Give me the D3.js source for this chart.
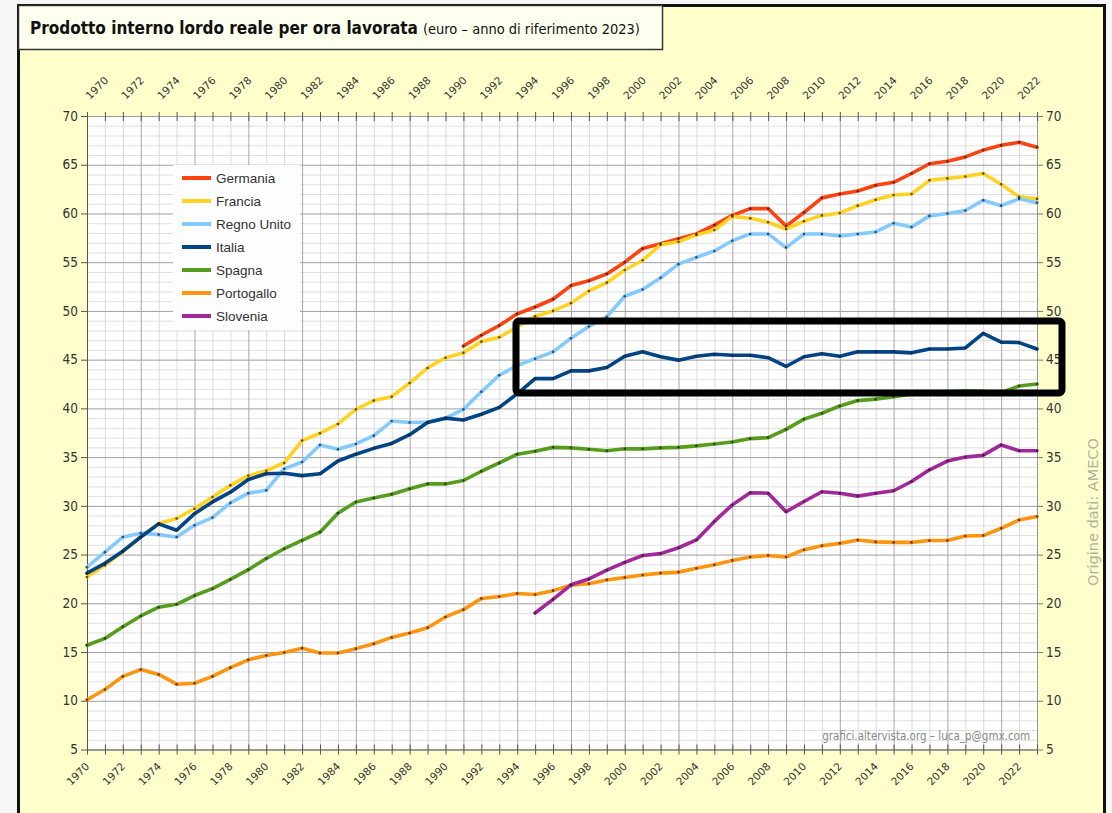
<!DOCTYPE html>
<html>
<head>
<meta charset="utf-8">
<script src="https://cdn.jsdelivr.net/npm/d3@7"></script>
<style>
  html, body { margin: 0; padding: 0; background: #f7f7f7; }
  svg { display: block; }
  .narrow { font-family: "Liberation Sans Narrow", "DejaVu Sans Condensed", sans-serif; }
</style>
</head>
<body>
<svg id="chart" width="1112" height="813"></svg>
<script>
// ── Data ─────────────────────────────────────────────────────────────────────
const firstYear = 1970, lastYear = 2023;
const years = d3.range(firstYear, lastYear + 1);

const xTickLabels = ["1970","1972","1974","1976","1978","1980","1982","1984","1986","1988",
  "1990","1992","1994","1996","1998","2000","2002","2004","2006","2008","2010","2012",
  "2014","2016","2018","2020","2022"];
const yTickLabels = [5, 10, 15, 20, 25, 30, 35, 40, 45, 50, 55, 60, 65, 70];

const countries = ["Germania", "Francia", "Regno Unito", "Italia", "Spagna", "Portogallo", "Slovenia"];
const colors    = ["#ff420e", "#ffd320", "#83caff", "#004586", "#579d1c", "#ff950e", "#a1279a"];
const startYear = [1991, 1970, 1970, 1970, 1970, 1970, 1995];

const germania = [46.4, 47.5, 48.5, 49.7, 50.4, 51.2, 52.6, 53.1, 53.8, 55.0,
  56.4, 56.9, 57.4, 57.9, 58.8, 59.8, 60.5, 60.5, 58.7, 60.1, 61.6, 62.0, 62.3,
  62.9, 63.2, 64.1, 65.1, 65.35, 65.8, 66.5, 67.0, 67.3, 66.8];
const francia = [22.7, 23.9, 25.3, 26.8, 28.2, 28.7, 29.7, 30.9, 32.1, 33.1,
  33.6, 34.4, 36.7, 37.45, 38.4, 39.9, 40.8, 41.2, 42.6, 44.15,
  45.2, 45.7, 46.85, 47.3, 48.35, 49.45, 50.0, 50.8, 52.05, 52.9,
  54.2, 55.2, 56.8, 57.1, 57.8, 58.3, 59.7, 59.5, 59.1, 58.4,
  59.2, 59.8, 60.05, 60.8, 61.4, 61.9, 62.0, 63.4, 63.6, 63.8,
  64.1, 63.0, 61.7, 61.5];
const regnoUnito = [23.7, 25.25, 26.8, 27.2, 27.05, 26.8, 28.0, 28.8, 30.3, 31.3,
  31.6, 33.8, 34.5, 36.25, 35.8, 36.35, 37.2, 38.7, 38.55, 38.6,
  39.0, 39.9, 41.7, 43.4, 44.4, 45.1, 45.8, 47.2, 48.4, 49.4,
  51.5, 52.2, 53.4, 54.8, 55.5, 56.15, 57.2, 57.9, 57.9, 56.5,
  57.9, 57.9, 57.7, 57.9, 58.1, 59.0, 58.6, 59.75, 60.0, 60.3,
  61.35, 60.8, 61.5, 61.1];
const italia = [23.1, 24.1, 25.35, 26.8, 28.15, 27.5, 29.2, 30.4, 31.4, 32.7,
  33.3, 33.35, 33.1, 33.3, 34.6, 35.3, 35.9, 36.4, 37.3, 38.55,
  39.0, 38.8, 39.4, 40.1, 41.5, 43.05, 43.05, 43.85, 43.85, 44.2,
  45.35, 45.8, 45.3, 44.95, 45.35, 45.55, 45.45, 45.45, 45.2, 44.3,
  45.3, 45.6, 45.35, 45.8, 45.8, 45.8, 45.7, 46.1, 46.1, 46.2,
  47.7, 46.8, 46.75, 46.1];
const spagna = [15.7, 16.4, 17.6, 18.7, 19.6, 19.9, 20.8, 21.5, 22.45, 23.45,
  24.6, 25.6, 26.45, 27.3, 29.25, 30.4, 30.8, 31.2, 31.75, 32.25,
  32.25, 32.6, 33.55, 34.4, 35.3, 35.6, 36.0, 35.95, 35.8, 35.65,
  35.85, 35.85, 35.95, 36.0, 36.15, 36.35, 36.55, 36.9, 37.0, 37.85,
  38.9, 39.5, 40.25, 40.8, 40.95, 41.2, 41.45, 41.6, 41.7, 41.8,
  41.75, 41.6, 42.3, 42.5];
const portogallo = [10.1, 11.15, 12.5, 13.2, 12.7, 11.7, 11.8, 12.5, 13.4, 14.2,
  14.65, 14.95, 15.4, 14.9, 14.9, 15.35, 15.85, 16.5, 16.95, 17.5,
  18.6, 19.35, 20.5, 20.7, 21.0, 20.9, 21.3, 21.85, 22.0, 22.4,
  22.65, 22.9, 23.1, 23.2, 23.6, 23.95, 24.4, 24.75, 24.9, 24.75,
  25.5, 25.9, 26.15, 26.5, 26.3, 26.25, 26.25, 26.45, 26.45, 26.9,
  26.95, 27.7, 28.55, 28.9];
const slovenia = [19.0, 20.4, 21.9, 22.5, 23.4, 24.2, 24.9, 25.1, 25.7, 26.5,
  28.4, 30.1, 31.35, 31.3, 29.4, 30.45, 31.45, 31.3, 31.0, 31.3,
  31.55, 32.5, 33.7, 34.6, 35.0, 35.2, 36.25, 35.65, 35.65];

const seriesValues = [germania, francia, regnoUnito, italia, spagna, portogallo, slovenia];

const series = countries.map((name, i) => ({
  name,
  color: colors[i],
  points: seriesValues[i].map((v, j) => ({ year: startYear[i] + j, value: v }))
}));

// ── Setup ────────────────────────────────────────────────────────────────────
const svg = d3.select('#chart');
const plot = { left: 87, right: 1037, top: 116, bottom: 749.5 };

const x = d3.scaleLinear().domain([firstYear, lastYear]).range([plot.left, plot.right]);
const y = d3.scaleLinear().domain([5, 70]).range([plot.bottom, plot.top]);

// chart panel
svg.append('rect')
  .attr('x', 18.5).attr('y', 5.5)
  .attr('width', 1086).attr('height', 830)
  .attr('fill', '#ffffcc')
  .attr('stroke', '#111').attr('stroke-width', 3);

// title box
svg.append('rect')
  .attr('x', 18.5).attr('y', 5.5)
  .attr('width', 644).attr('height', 44)
  .attr('fill', '#fffff0')
  .attr('stroke', '#333').attr('stroke-width', 1.5);

const title = svg.append('text')
  .attr('class', 'narrow')
  .attr('x', 30).attr('y', 34)
  .attr('fill', '#111');
title.append('tspan')
  .attr('font-size', 17).attr('font-weight', 'bold')
  .text('Prodotto interno lordo reale per ora lavorata');
title.append('tspan')
  .attr('font-size', 14.5).attr('dx', 5)
  .text('(euro – anno di riferimento 2023)');

// ── Plot area & grid ─────────────────────────────────────────────────────────
svg.append('rect')
  .attr('x', plot.left).attr('y', plot.top)
  .attr('width', plot.right - plot.left).attr('height', plot.bottom - plot.top)
  .attr('fill', '#fefefe');

const gridG = svg.append('g');

// minor grid, every unit / every year
gridG.selectAll('.hminor')
  .data(d3.range(5, 71).filter(v => v % 5 !== 0))
  .enter().append('line')
  .attr('x1', plot.left).attr('x2', plot.right)
  .attr('y1', d => y(d) + 0.5).attr('y2', d => y(d) + 0.5)
  .attr('stroke', '#e0e0e0');

gridG.selectAll('.vminor')
  .data(years.filter(d => (d - firstYear) % 3 !== 0))
  .enter().append('line')
  .attr('x1', d => x(d) + 0.5).attr('x2', d => x(d) + 0.5)
  .attr('y1', plot.top).attr('y2', plot.bottom)
  .attr('stroke', '#dadada');

// major grid
gridG.selectAll('.hmajor')
  .data(yTickLabels)
  .enter().append('line')
  .attr('x1', plot.left).attr('x2', plot.right)
  .attr('y1', d => y(d) + 0.5).attr('y2', d => y(d) + 0.5)
  .attr('stroke', '#a0a0a0');

gridG.selectAll('.vmajor')
  .data(years.filter(d => (d - firstYear) % 3 === 0))
  .enter().append('line')
  .attr('x1', d => x(d) + 0.5).attr('x2', d => x(d) + 0.5)
  .attr('y1', plot.top).attr('y2', plot.bottom)
  .attr('stroke', '#a8a8a8');

// ── Axes ─────────────────────────────────────────────────────────────────────
const axisG = svg.append('g').attr('fill', 'none').attr('stroke', '#777');
axisG.append('line').attr('x1', plot.left + 0.5).attr('x2', plot.left + 0.5)
  .attr('y1', plot.top).attr('y2', plot.bottom).attr('stroke', '#555');
axisG.append('line').attr('x1', plot.right + 0.5).attr('x2', plot.right + 0.5)
  .attr('y1', plot.top).attr('y2', plot.bottom).attr('stroke', '#999');
axisG.append('line').attr('x1', plot.left).attr('x2', plot.right)
  .attr('y1', plot.bottom + 0.5).attr('y2', plot.bottom + 0.5).attr('stroke', '#666');

// year ticks, top and bottom
axisG.selectAll('.xt-bottom')
  .data(years).enter().append('line')
  .attr('x1', d => x(d) + 0.5).attr('x2', d => x(d) + 0.5)
  .attr('y1', plot.bottom - 5).attr('y2', plot.bottom + 5)
  .attr('stroke', '#555');
axisG.selectAll('.xt-top')
  .data(years).enter().append('line')
  .attr('x1', d => x(d) + 0.5).attr('x2', d => x(d) + 0.5)
  .attr('y1', plot.top - 4).attr('y2', plot.top + 5)
  .attr('stroke', '#555');

// value ticks, left and right
axisG.selectAll('.yt-left')
  .data(yTickLabels).enter().append('line')
  .attr('x1', plot.left - 6).attr('x2', plot.left)
  .attr('y1', d => y(d) + 0.5).attr('y2', d => y(d) + 0.5)
  .attr('stroke', '#555');
axisG.selectAll('.yt-right')
  .data(yTickLabels).enter().append('line')
  .attr('x1', plot.right).attr('x2', plot.right + 6)
  .attr('y1', d => y(d) + 0.5).attr('y2', d => y(d) + 0.5)
  .attr('stroke', '#777');

const labelG = svg.append('g').attr('fill', '#333');

labelG.selectAll('.yl-left')
  .data(yTickLabels).enter().append('text')
  .attr('class', 'narrow')
  .attr('x', plot.left - 9).attr('y', d => y(d))
  .attr('dy', '0.35em')
  .attr('text-anchor', 'end')
  .attr('font-size', 13.5)
  .text(d => d);

labelG.selectAll('.yl-right')
  .data(yTickLabels).enter().append('text')
  .attr('class', 'narrow')
  .attr('x', plot.right + 9).attr('y', d => y(d))
  .attr('dy', '0.35em')
  .attr('font-size', 13.5)
  .text(d => d);

labelG.selectAll('.xl-top')
  .data(xTickLabels).enter().append('text')
  .attr('transform', d => `translate(${x(+d) + 3},100) rotate(-45)`)
  .attr('font-family', 'DejaVu Sans, sans-serif')
  .attr('font-size', 10.5)
  .text(d => d);

labelG.selectAll('.xl-bottom')
  .data(xTickLabels).enter().append('text')
  .attr('transform', d => `translate(${x(+d) + 3},767) rotate(-45)`)
  .attr('text-anchor', 'end')
  .attr('font-family', 'DejaVu Sans, sans-serif')
  .attr('font-size', 10.5)
  .text(d => d);

// ── Series ───────────────────────────────────────────────────────────────────
const line = d3.line()
  .x(d => x(d.year))
  .y(d => y(d.value));

const seriesG = svg.append('g');
seriesG.selectAll('.series-line')
  .data(series).enter().append('path')
  .attr('class', 'series-line')
  .attr('d', d => line(d.points))
  .attr('fill', 'none')
  .attr('stroke', d => d.color)
  .attr('stroke-width', 3.6)
  .attr('stroke-linejoin', 'round')
  .attr('stroke-linecap', 'round');

// small point markers
seriesG.selectAll('.series-dots')
  .data(series).enter().append('g')
  .selectAll('circle')
  .data(d => d.points).enter().append('circle')
  .attr('cx', d => x(d.year))
  .attr('cy', d => y(d.value))
  .attr('r', 1.3)
  .attr('fill', '#222')
  .attr('fill-opacity', 0.75);

// ── Legend ───────────────────────────────────────────────────────────────────
const legend = svg.append('g');
legend.append('rect')
  .attr('x', 173).attr('y', 165)
  .attr('width', 127).attr('height', 165)
  .attr('fill', '#fdfdfd');

const legendItem = legend.selectAll('.legend-item')
  .data(series).enter().append('g')
  .attr('transform', (d, i) => `translate(0,${178 + i * 23})`);
legendItem.append('line')
  .attr('x1', 182).attr('x2', 211)
  .attr('stroke', d => d.color)
  .attr('stroke-width', 4);
legendItem.append('text')
  .attr('x', 216).attr('dy', '0.35em')
  .attr('font-family', 'Liberation Sans, Arial, sans-serif')
  .attr('font-size', 13.5)
  .attr('fill', '#333')
  .text(d => d.name);

// ── Notes ────────────────────────────────────────────────────────────────────
svg.append('text')
  .attr('x', 1030).attr('y', 740)
  .attr('text-anchor', 'end')
  .attr('font-family', 'DejaVu Sans Condensed, sans-serif')
  .attr('font-size', 11.5)
  .attr('fill', '#8a8a8a')
  .text('grafici.altervista.org – luca_p@gmx.com');

svg.append('text')
  .attr('transform', 'translate(1098,512) rotate(-90)')
  .attr('text-anchor', 'middle')
  .attr('font-family', 'DejaVu Sans, sans-serif')
  .attr('font-size', 14.5)
  .attr('fill', '#b0b0a0')
  .text('Origine dati: AMECO');

// highlight box drawn over the chart
svg.append('rect')
  .attr('x', 516).attr('y', 321)
  .attr('width', 546).attr('height', 72)
  .attr('rx', 3)
  .attr('fill', 'none')
  .attr('stroke', '#000')
  .attr('stroke-width', 7);
</script>
</body>
</html>
